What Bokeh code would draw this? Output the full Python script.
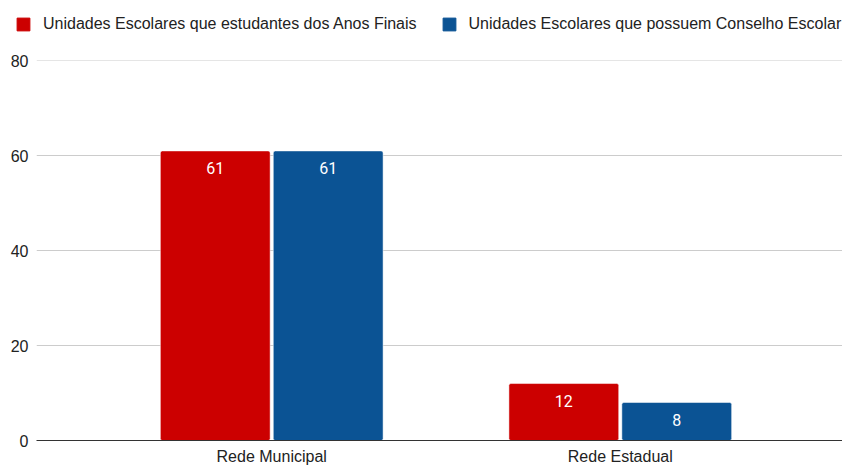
from bokeh.plotting import figure
from bokeh.layouts import column
from bokeh.models import ColumnDataSource, Legend, LegendItem, FixedTicker, Range1d
from bokeh.transform import dodge
from bokeh.core.properties import value
from bokeh.embed import file_html
from bokeh.resources import INLINE

categories = ["Rede Municipal", "Rede Estadual"]
series_names = ["Unidades Escolares que estudantes dos Anos Finais",
                "Unidades Escolares que possuem Conselho Escolar"]
anos_finais = [61, 12]
conselho = [61, 8]
y_ticks = [0, 20, 40, 60, 80]
colors = ["#cc0000", "#0b5394"]

xs = list(range(len(categories)))
src = ColumnDataSource(dict(
    x=xs, a=anos_finais, b=conselho,
    a_lbl=[str(v) for v in anos_finais], b_lbl=[str(v) for v in conselho],
))

# ---- legend strip ----
LH = 40
lg = figure(width=842, height=LH, output_backend="svg", toolbar_location=None,
            x_axis_location=None, y_axis_location=None,
            x_range=Range1d(0, 1), y_range=Range1d(0, 1),
            min_border_left=0, min_border_right=0, min_border_top=0, min_border_bottom=0)
lg.frame_align = False
lg.outline_line_color = None
lg.xgrid.grid_line_color = None
lg.ygrid.grid_line_color = None
# off-screen proxies: only their colours are used by the legend
d1 = lg.vbar(x=[10], top=[0], width=1, fill_color=colors[0], line_color=colors[0], border_radius=2)
d2 = lg.vbar(x=[10], top=[0], width=1, fill_color=colors[1], line_color=colors[1], border_radius=2)
legend = Legend(items=[LegendItem(label=series_names[0], renderers=[d1]),
                       LegendItem(label=series_names[1], renderers=[d2])],
                orientation="horizontal", location=(15, 7),
                margin=0, padding=0, spacing=24, label_standoff=12,
                glyph_width=16, glyph_height=16, label_height=18,
                label_text_font="Liberation Sans", label_text_font_size="16px",
                label_text_color="#222222", border_line_color=None,
                background_fill_alpha=0)
lg.add_layout(legend, "center")

# ---- main chart ----
p = figure(width=842, height=467 - LH, output_backend="svg", toolbar_location=None,
           x_range=Range1d(-0.6748, 1.6375), y_range=Range1d(0, 80.05),
           min_border_left=36, min_border_right=0, min_border_top=60 - LH, min_border_bottom=26)
p.frame_align = False
p.outline_line_color = None
p.background_fill_color = "white"

bw = 0.315
off = 0.162
p.vbar(x=dodge("x", -off), top="a", width=bw, source=src, fill_color=colors[0],
       line_color="white", line_width=0.5, border_radius=2)
p.vbar(x=dodge("x", off), top="b", width=bw, source=src, fill_color=colors[1],
       line_color="white", line_width=0.5, border_radius=2)

for col, lbl, o in (("a", "a_lbl", -off), ("b", "b_lbl", off)):
    p.text(x=dodge("x", o), y=col, text=lbl, source=src, text_color="white",
           text_align="center", text_baseline="middle", y_offset=17,
           text_font=value("Roboto"), text_font_size="16px")

p.xaxis.ticker = FixedTicker(ticks=xs)
p.xaxis.major_label_overrides = {i: c for i, c in enumerate(categories)}
p.xaxis.major_tick_line_color = None
p.xaxis.major_tick_out = 0
p.xaxis.major_tick_in = 0
p.xaxis.minor_tick_line_color = None
p.xaxis.axis_line_color = "#333333"
p.xaxis.major_label_text_font = "Liberation Sans"
p.xaxis.major_label_text_font_size = "16px"
p.xaxis.major_label_text_color = "#222222"
p.xaxis.major_label_standoff = 7
p.xgrid.grid_line_color = None

p.yaxis.ticker = FixedTicker(ticks=y_ticks)
p.yaxis.axis_line_color = None
p.yaxis.major_tick_line_color = None
p.yaxis.major_tick_out = 0
p.yaxis.major_tick_in = 0
p.yaxis.minor_tick_line_color = None
p.yaxis.major_label_text_font = "Liberation Sans"
p.yaxis.major_label_text_font_size = "16px"
p.yaxis.major_label_text_color = "#222222"
p.yaxis.major_label_standoff = 8
p.ygrid.grid_line_color = "#cccccc"

layout = column(lg, p, spacing=0)
open("out.html", "w").write(file_html(layout, INLINE))
